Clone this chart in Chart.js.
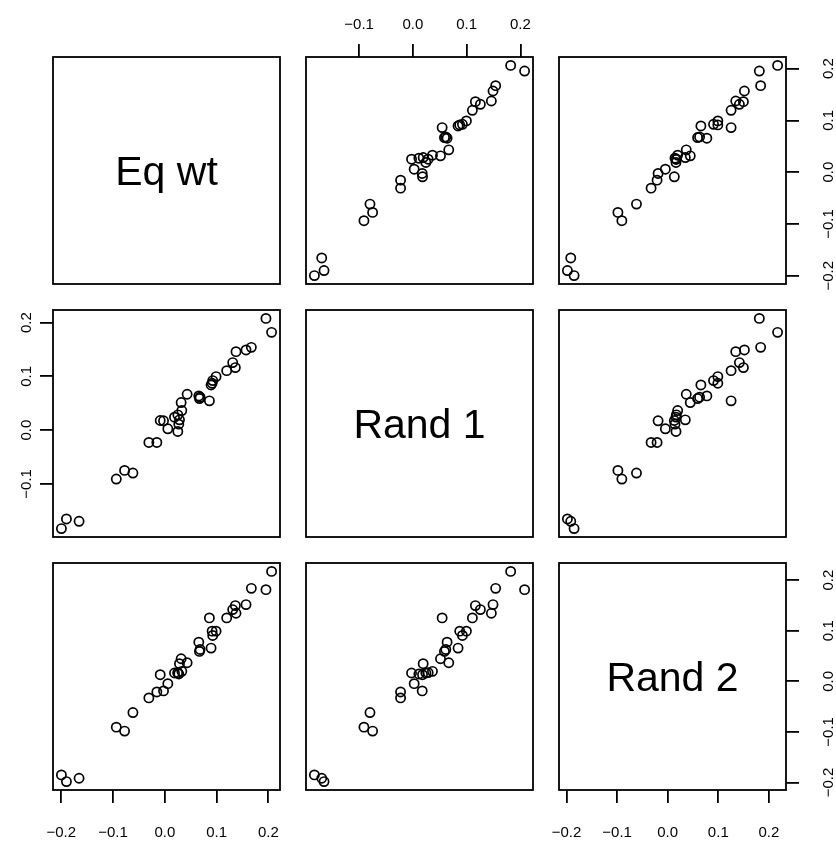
<!DOCTYPE html>
<html>
<head>
<meta charset="utf-8">
<title>Pairs</title>
<script src="https://cdn.jsdelivr.net/npm/chart.js@4/dist/chart.umd.min.js"></script>
<style>
  html, body { margin: 0; padding: 0; background: #fff; overflow: hidden; }
  #grid { position: relative; width: 836px; height: 842px; }
  #grid canvas { position: absolute; }
</style>
</head>
<body>
<div id="grid"></div>
<script>
const varNames = ["Eq wt", "Rand 1", "Rand 2"];

// one value per observation, same order in every series
const eqWt = [
  -0.1997, -0.1900, -0.1656, -0.0937, -0.0777, -0.0616, -0.0308, -0.0154,
  -0.0089, -0.0025, 0.0058, 0.0187, 0.0251, 0.0251, 0.0270, 0.0283,
  0.0315, 0.0328, 0.0431, 0.0656, 0.0681, 0.0669, 0.0861, 0.0893,
  0.0913, 0.0925, 0.0990, 0.1195, 0.1311, 0.1362, 0.1375, 0.1568,
  0.1671, 0.1953, 0.2062
];
const rand1 = [
  -0.1831, -0.1652, -0.1695, -0.0910, -0.0749, -0.0798, -0.0229, -0.0229,
  0.0179, 0.0173, 0.0024, 0.0241, 0.0284, -0.0025, 0.0111, 0.0191,
  0.0513, 0.0364, 0.0667, 0.0636, 0.0612, 0.0587, 0.0544, 0.0840,
  0.0871, 0.0921, 0.0995, 0.1106, 0.1255, 0.1162, 0.1459, 0.1490,
  0.1539, 0.2077, 0.1818
];
const rand2 = [
  -0.1850, -0.1982, -0.1916, -0.0906, -0.0984, -0.0617, -0.0328, -0.0210,
  0.0131, -0.0190, -0.0046, 0.0164, 0.0171, 0.0164, 0.0144, 0.0348,
  0.0446, 0.0197, 0.0367, 0.0774, 0.0630, 0.0591, 0.1253, 0.0656,
  0.0991, 0.0906, 0.0991, 0.1253, 0.1417, 0.1496, 0.1345, 0.1516,
  0.1837, 0.1811, 0.2172
];

const tickValues = [-0.2, -0.1, 0, 0.1, 0.2];
const tickLabels = ["\u22120.2", "\u22120.1", "0.0", "0.1", "0.2"];

const series = [eqWt, rand1, rand2];
const n = series.length;

const FONT = '"Liberation Sans", Arial, Helvetica, sans-serif';
const PANEL = 227;
const STEP = 252.6;
const ORIGIN_X = 53.3;
const ORIGIN_Y = 57.3;
const MARGIN = 60;
const AXIS = 55;
const LINE = 1.8;

// same 4% extension on both ends as base graphics
function extent(values) {
  const lo = Math.min(...values);
  const hi = Math.max(...values);
  const pad = (hi - lo) * 0.04;
  return { min: lo - pad, max: hi + pad };
}

const labelPadding = { bottom: 21, top: 10, left: -2, right: 15 };

function scaleFor(values, axis, position) {
  const r = extent(values);
  const vertical = axis === "y";
  const shown = !!position;
  return {
    type: "linear",
    axis: axis,
    position: position || (vertical ? "left" : "bottom"),
    display: shown,
    min: r.min,
    max: r.max,
    afterBuildTicks: (s) => {
      s.ticks = tickValues
        .filter((v) => v >= s.min && v <= s.max)
        .map((v) => ({ value: v }));
    },
    // fixed axis band so every plot area lands on the same grid
    afterFit: (s) => {
      const size = shown ? AXIS : 0;
      if (s.isHorizontal()) s.height = size;
      else s.width = size;
    },
    border: { display: false },
    grid: {
      drawOnChartArea: false,
      drawTicks: true,
      tickLength: 13,
      lineWidth: LINE,
      tickWidth: LINE,
      tickColor: "#000",
    },
    ticks: {
      autoSkip: false,
      color: "#000",
      font: { family: FONT, size: 15 },
      padding: labelPadding[position] || 0,
      minRotation: vertical ? 90 : 0,
      maxRotation: vertical ? 90 : 0,
      crossAlign: vertical ? "center" : "near",
      callback: (v) => tickLabels[tickValues.indexOf(v)],
    },
  };
}

// box around every panel, variable name on the diagonal
const panelFrame = {
  id: "panelFrame",
  afterDatasetsDraw(chart, args, opts) {
    const { ctx, chartArea: a } = chart;
    ctx.save();
    ctx.strokeStyle = "#000";
    ctx.lineWidth = LINE;
    ctx.strokeRect(a.left, a.top, a.width, a.height);
    if (opts.label) {
      const size = 41;
      ctx.fillStyle = "#000";
      ctx.font = size + "px " + FONT;
      ctx.textAlign = "center";
      ctx.textBaseline = "alphabetic";
      ctx.fillText(
        opts.label,
        (a.left + a.right) / 2,
        (a.top + a.bottom) / 2 + size * 0.358
      );
    }
    ctx.restore();
  },
};

const grid = document.getElementById("grid");

for (let r = 0; r < n; r++) {
  for (let c = 0; c < n; c++) {
    const canvas = document.createElement("canvas");
    canvas.width = PANEL + 2 * MARGIN;
    canvas.height = PANEL + 2 * MARGIN;
    canvas.style.left = Math.round(ORIGIN_X + STEP * c) - MARGIN + "px";
    canvas.style.top = Math.round(ORIGIN_Y + STEP * r) - MARGIN + "px";
    grid.appendChild(canvas);

    // axes alternate around the outside, as in pairs()
    let xPos = null;
    if (r === 0 && c % 2 === 1) xPos = "top";
    if (r === n - 1 && c % 2 === 0) xPos = "bottom";
    let yPos = null;
    if (c === 0 && r % 2 === 1) yPos = "left";
    if (c === n - 1 && r % 2 === 0) yPos = "right";

    const padding = {
      top: MARGIN - (xPos === "top" ? AXIS : 0),
      bottom: MARGIN - (xPos === "bottom" ? AXIS : 0),
      left: MARGIN - (yPos === "left" ? AXIS : 0),
      right: MARGIN - (yPos === "right" ? AXIS : 0),
    };

    const diagonal = r === c;
    const points = diagonal
      ? []
      : series[c].map((x, k) => ({ x: x, y: series[r][k] }));

    new Chart(canvas, {
      type: "scatter",
      data: {
        datasets: [
          {
            data: points,
            pointStyle: "circle",
            pointRadius: 4.6,
            pointHoverRadius: 4.6,
            pointBorderWidth: 1.7,
            pointBorderColor: "#000",
            pointBackgroundColor: "rgba(0,0,0,0)",
          },
        ],
      },
      options: {
        responsive: false,
        animation: false,
        events: [],
        layout: { padding: padding },
        scales: {
          x: scaleFor(series[c], "x", xPos),
          y: scaleFor(series[r], "y", yPos),
        },
        plugins: {
          legend: { display: false },
          tooltip: { enabled: false },
          panelFrame: { label: diagonal ? varNames[r] : null },
        },
      },
      plugins: [panelFrame],
    });
  }
}
</script>
</body>
</html>
